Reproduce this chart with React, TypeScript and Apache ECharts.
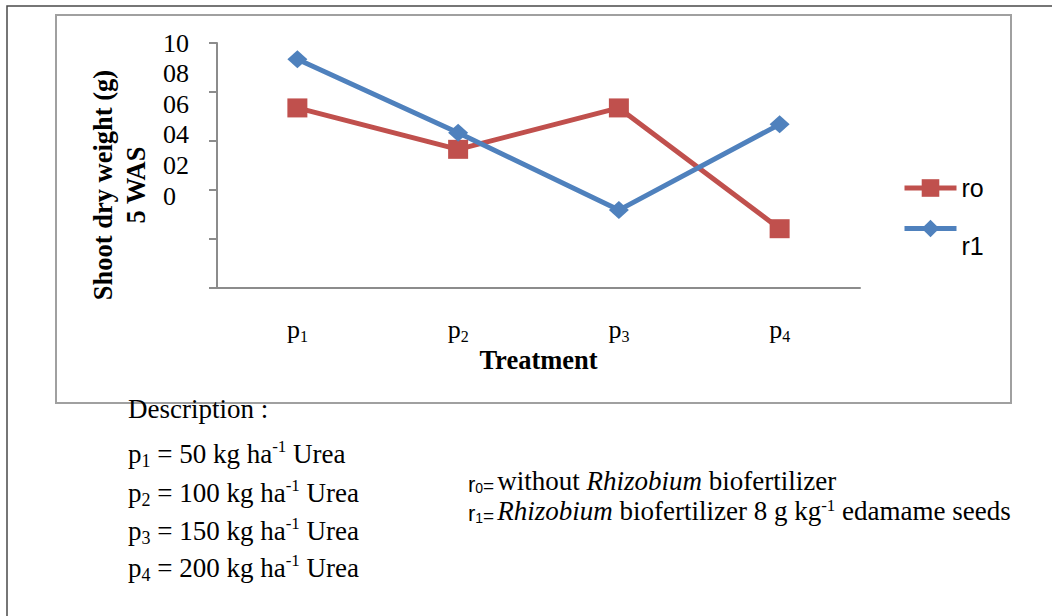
import React, { useEffect, useRef } from "react";
import * as echarts from "echarts";

// ---- data ----
const categories = ["p1", "p2", "p3", "p4"];
const seriesNames = ["ro", "r1"];
const r0Values = [7.35, 5.66, 7.35, 2.42];
const r1Values = [9.34, 6.34, 3.18, 6.68];
// tick labels as printed on the (mis-labelled) value axis, top to bottom
const yTickLabels = ["10", "08", "06", "04", "02", "0"];
const yTickSlots = [8, 7, 6, 5, 4, 3];
const ureaRates = ["50", "100", "150", "200"];
const yAxisTitle = "Shoot dry weight (g)\n5 WAS";
const xAxisTitle = "Treatment";

const serif = "'Liberation Serif', 'Times New Roman', serif";
const sans = "'Liberation Sans', Arial, sans-serif";
const RED = "#C0504D";
const BLUE = "#4F81BD";

const descRich = {
  t: { fontFamily: serif, fontSize: 27, lineHeight: 32, color: "#000" },
  sub: { fontFamily: serif, fontSize: 18, lineHeight: 20, color: "#000", verticalAlign: "bottom" },
  sup: { fontFamily: serif, fontSize: 17, lineHeight: 21, color: "#000", verticalAlign: "top" },
};

const rRich = {
  t: { fontFamily: serif, fontSize: 27, lineHeight: 28, color: "#000" },
  ti: { fontFamily: serif, fontSize: 27, lineHeight: 28, color: "#000", fontStyle: "italic" },
  sup: { fontFamily: serif, fontSize: 17, lineHeight: 19, color: "#000", verticalAlign: "top" },
  sr: { fontFamily: sans, fontSize: 22, lineHeight: 26, color: "#000", verticalAlign: "bottom" },
  ss: { fontFamily: sans, fontSize: 14, lineHeight: 14, color: "#000", verticalAlign: "bottom" },
  se: { fontFamily: sans, fontSize: 19, lineHeight: 25, color: "#000", verticalAlign: "bottom" },
  g: { fontFamily: sans, fontSize: 11, lineHeight: 24, color: "#000", verticalAlign: "bottom" },
};

export default function App() {
  const ref = useRef<HTMLDivElement>(null);
  useEffect(() => {
    if (!ref.current) return;
    const chart = echarts.init(ref.current, null, { renderer: "svg" });

    const descY = [454, 493, 531, 568];
    const descLines: any[] = [
      {
        type: "text",
        x: 128,
        y: 409,
        silent: true,
        style: { text: "{t|Description :}", rich: descRich, verticalAlign: "middle" },
      },
    ];
    categories.forEach((c, i) => {
      descLines.push({
        type: "text",
        x: 128,
        y: descY[i],
        silent: true,
        style: {
          text: `{t|${c[0]}}{sub|${c.slice(1)}}{t| = ${ureaRates[i]} kg ha}{sup|-1}{t| Urea}`,
          rich: descRich,
          verticalAlign: "middle",
        },
      });
    });
    descLines.push({
      type: "text",
      x: 468,
      y: 481,
      silent: true,
      style: {
        text: "{sr|r}{ss|0}{se|=}{g| }{t|without }{ti|Rhizobium}{t| biofertilizer}",
        rich: rRich,
        verticalAlign: "middle",
      },
    });
    descLines.push({
      type: "text",
      x: 468,
      y: 510.5,
      silent: true,
      style: {
        text: "{sr|r}{ss|1}{se|=}{g| }{ti|Rhizobium}{t| biofertilizer 8 g kg}{sup|-1}{t| edamame seeds}",
        rich: rRich,
        verticalAlign: "middle",
      },
    });

    const legendText = { fontFamily: sans, fontSize: 25, lineHeight: 30, color: "#000" };

    const option: any = {
      animation: false,
      backgroundColor: "#fff",
      grid: { left: 217, right: 192, top: 43, bottom: 328, containLabel: false },
      xAxis: {
        type: "category",
        data: categories,
        boundaryGap: true,
        axisLine: { show: true, lineStyle: { color: "#8C8C8C", width: 2 } },
        axisTick: { show: false },
        splitLine: { show: false },
        axisLabel: {
          margin: 26,
          formatter: (v: string) => `{p|${v[0]}}{s|${v.slice(1)}}`,
          rich: {
            p: { fontFamily: serif, fontSize: 26, lineHeight: 30, color: "#000" },
            s: { fontFamily: serif, fontSize: 16, lineHeight: 16, color: "#000", verticalAlign: "bottom" },
          },
        },
        name: xAxisTitle,
        nameLocation: "middle",
        nameGap: 55,
        nameTextStyle: {
          fontFamily: serif,
          fontSize: 26.5,
          fontWeight: "bold",
          lineHeight: 30,
          color: "#000",
        },
      },
      yAxis: [
        {
          type: "value",
          min: 0,
          max: 10,
          interval: 2,
          position: "left",
          axisLine: { show: true, lineStyle: { color: "#8C8C8C", width: 2 } },
          axisTick: { show: true, length: 8, lineStyle: { color: "#8C8C8C", width: 2 } },
          axisLabel: { show: false },
          splitLine: { show: false },
          name: yAxisTitle,
          nameLocation: "middle",
          nameGap: 65,
          nameTextStyle: {
            fontFamily: serif,
            fontSize: 26.5,
            fontWeight: "bold",
            lineHeight: 33,
            color: "#000",
            align: "center",
            padding: [0, 39, 0, 0],
          },
        },
        {
          type: "value",
          min: 0,
          max: 8,
          interval: 1,
          position: "left",
          axisLine: { show: false },
          axisTick: { show: false },
          splitLine: { show: false },
          axisLabel: {
            show: true,
            align: "left",
            margin: 54,
            fontFamily: serif,
            fontSize: 26,
            color: "#000",
            formatter: (v: number) => {
              const i = yTickSlots.indexOf(v);
              return i >= 0 ? yTickLabels[i] : "";
            },
          },
        },
      ],
      legend: [
        {
          data: [seriesNames[0]],
          orient: "vertical",
          left: 902,
          top: 173,
          padding: 0,
          itemWidth: 52,
          itemHeight: 22,
          selectedMode: false,
          lineStyle: { width: 5 },
          textStyle: legendText,
        },
        {
          data: [seriesNames[1]],
          orient: "vertical",
          left: 902,
          top: 199,
          padding: 0,
          itemWidth: 52,
          itemHeight: 22,
          selectedMode: false,
          lineStyle: { width: 5 },
          formatter: (n: string) => `{a|${n}}`,
          textStyle: {
            ...legendText,
            rich: { a: { ...legendText, padding: [34, 0, 0, 0] } },
          },
        },
      ],
      series: [
        {
          name: seriesNames[0],
          type: "line",
          data: r0Values,
          yAxisIndex: 0,
          symbol: "rect",
          symbolSize: [20, 19],
          itemStyle: { color: RED },
          lineStyle: { color: RED, width: 5 },
        },
        {
          name: seriesNames[1],
          type: "line",
          data: r1Values,
          yAxisIndex: 0,
          symbol: "diamond",
          symbolSize: [20, 18],
          itemStyle: { color: BLUE },
          lineStyle: { color: BLUE, width: 5 },
        },
      ],
      graphic: [
        {
          type: "rect",
          silent: true,
          z: -10,
          shape: { x: 7, y: 6, width: 1200, height: 800 },
          style: { fill: "none", stroke: "#4a4a4a", lineWidth: 1.5 },
        },
        {
          type: "rect",
          silent: true,
          z: -10,
          shape: { x: 56, y: 15, width: 955, height: 388 },
          style: { fill: "none", stroke: "#A0A0A0", lineWidth: 2 },
        },
        ...descLines,
      ],
    };
    chart.setOption(option);
    return () => chart.dispose();
  }, []);
  return (
    <div
      ref={ref}
      style={{ position: "absolute", left: 0, top: 0, width: 1052, height: 616 }}
    />
  );
}
